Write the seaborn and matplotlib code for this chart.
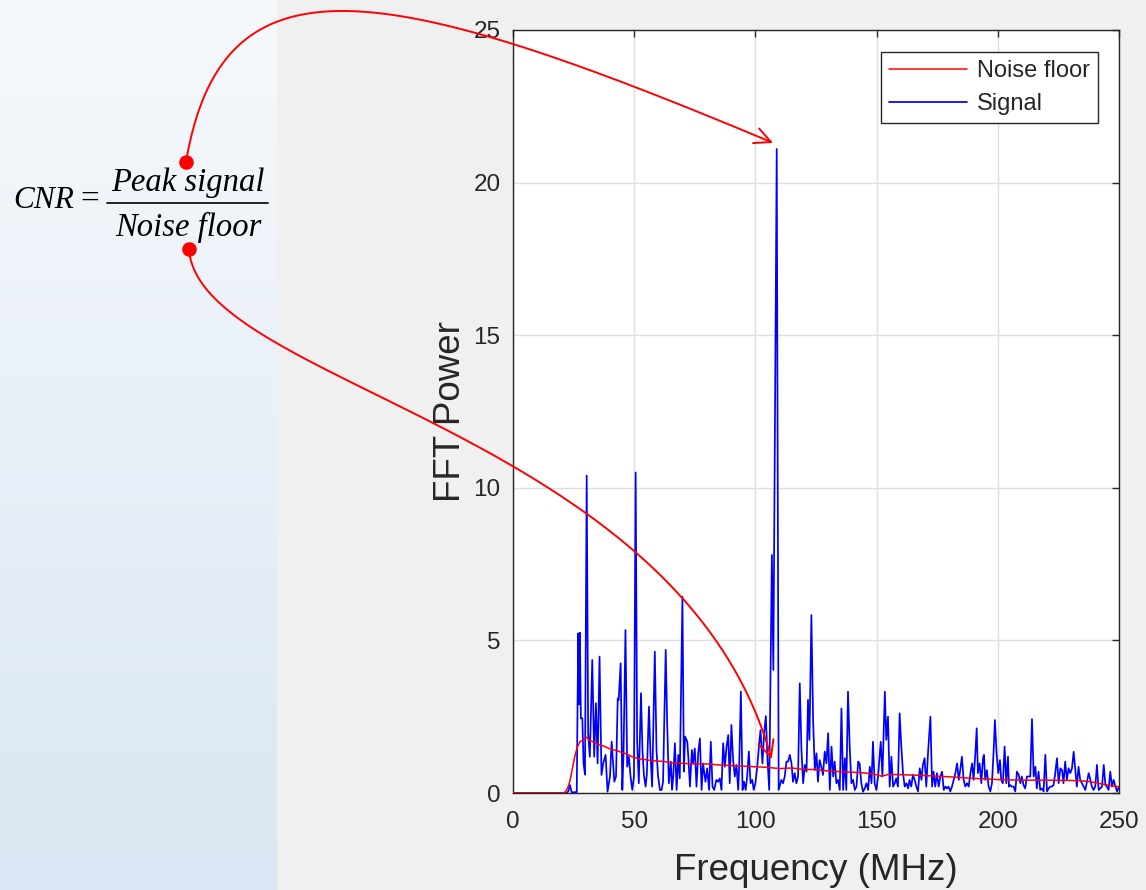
import numpy as np
import pandas as pd
import matplotlib
matplotlib.use("Agg")
import matplotlib.pyplot as plt
from matplotlib.colors import LinearSegmentedColormap
import seaborn as sns

# ---------------- data ----------------
sig_freq = [0, 22.0, 22.8, 23.5, 24.2, 26.3, 26.9, 27.3, 27.6, 28.0, 28.6, 29.1, 29.7, 30.4, 31.0,
            31.7, 32.7, 33.5, 34.2, 34.9, 35.7, 36.5, 37.2, 38.2, 39.0, 40.0, 40.7, 41.8, 42.5, 43.2,
            43.6, 44.4, 45.1, 45.6, 46.4, 47.1, 47.8, 48.5, 49.2, 49.9, 50.6, 51.2, 51.9, 52.8, 53.4,
            54.0, 54.7, 55.2, 56.1, 56.7, 57.4, 58.5, 59.2, 59.8, 60.6, 61.3, 61.9, 63.0, 63.6, 64.3,
            65.1, 65.6, 66.1, 66.8, 67.5, 68.2, 68.8, 69.9, 70.5, 71.0, 71.9, 72.4, 73.0, 73.8, 74.3,
            75.0, 75.7, 76.4, 77.1, 77.8, 78.4, 79.4, 80.1, 80.9, 81.6, 82.3, 83.0, 83.9, 84.6, 85.3,
            86.0, 86.7, 87.4, 88.1, 88.8, 89.4, 90.1, 90.8, 91.5, 92.2, 92.9, 93.3, 94.0, 94.7, 95.3,
            96.0, 96.6, 97.3, 98.0, 98.7, 99.3, 100.0, 100.7, 101.5, 102.1, 102.9, 103.6, 104.3, 105.0,
            105.7, 106.8, 107.4, 108.8, 109.6, 110.7, 111.4, 112.1, 112.8, 113.5, 114.2, 114.9, 115.5,
            116.2, 116.9, 117.6, 118.3, 119.0, 119.7, 120.4, 121.1, 121.7, 122.3, 123.1, 123.8, 124.5,
            125.2, 125.8, 126.5, 127.2, 127.9, 128.6, 129.3, 130.0, 130.7, 131.4, 132.1, 132.7, 133.4,
            134.1, 134.8, 135.5, 136.2, 136.9, 137.5, 138.2, 138.9, 139.6, 140.3, 141.0, 141.7, 142.4,
            143.0, 143.7, 144.4, 145.1, 145.8, 146.5, 147.2, 147.9, 148.5, 149.2, 149.9, 150.6, 151.7,
            152.4, 153.4, 154.0, 154.7, 155.4, 156.1, 156.8, 157.5, 158.1, 158.8, 159.5, 160.2, 160.9,
            161.6, 162.3, 163.0, 163.6, 164.3, 165.0, 165.7, 166.4, 167.1, 167.8, 168.5, 169.1, 169.8,
            170.5, 171.2, 172.2, 172.9, 173.5, 174.2, 174.9, 175.6, 176.3, 177.0, 177.7, 178.4, 179.0,
            179.7, 180.4, 181.1, 181.8, 182.5, 183.2, 183.9, 184.5, 185.2, 185.9, 186.6, 187.3, 188.0,
            188.7, 189.4, 190.0, 190.7, 191.3, 191.8, 192.5, 193.2, 193.9, 194.3, 194.8, 195.5, 196.2,
            196.9, 197.6, 198.3, 198.8, 199.5, 200.2, 200.9, 201.4, 202.1, 202.8, 203.5, 204.2, 204.6,
            205.1, 205.8, 206.5, 207.2, 207.9, 208.6, 209.3, 209.9, 210.6, 211.3, 212.0, 212.7, 213.4,
            214.1, 214.8, 215.5, 216.1, 216.8, 217.5, 218.2, 218.9, 219.6, 220.3, 221.0, 221.6, 222.3,
            223.0, 223.7, 224.4, 225.1, 225.8, 226.5, 227.1, 227.8, 228.5, 229.2, 229.9, 230.6, 231.3,
            232.0, 232.6, 233.3, 234.0, 234.7, 235.4, 236.1, 236.8, 237.5, 238.2, 238.8, 239.5, 240.2,
            240.9, 241.6, 242.3, 243.0, 243.7, 244.4, 245.0, 245.7, 246.4, 247.1, 247.8, 248.5, 249.2,
            250.0]
sig_power = [0, 0, 0.05, 0.26, 0.02, 0.03, 5.23, 2.9, 5.25, 2.45, 2.45, 0.97, 0.6, 10.4, 1.96,
             1.19, 4.36, 1.19, 2.94, 0.97, 4.47, 0.59, 0.97, 1.25, 0.04, 0.54, 1.68, 0.37, 0.54, 3.1,
             3.05, 4.25, 0.1, 1.3, 5.34, 0.86, 1.19, 0.54, 0.1, 0.54, 10.5, 1.74, 0.32, 3.27, 1.41,
             0.59, 0.21, 0.59, 2.83, 1.3, 0.21, 4.63, 1.41, 0.59, 0.1, 0.1, 0.37, 4.69, 2.28, 0.32,
             1.03, 0.1, 0.54, 1.63, 0.1, 1.25, 0.48, 6.43, 0.7, 1.85, 1.68, 1.08, 0.21, 1.41, 0.97,
             1.46, 0.21, 1.3, 1.79, 0.1, 0.97, 0.37, 0.81, 0.1, 1.68, 0.21, 0.1, 0.43, 0.37, 0.48,
             0.1, 1.63, 0.86, 1.52, 1.9, 0.32, 2.23, 1.08, 0.54, 0.92, 0.1, 0.86, 3.32, 0.1, 0.37,
             0.1, 0.54, 1.36, 0.32, 0.43, 0.1, 0.32, 0.81, 1.57, 2.06, 0.97, 1.96, 2.52, 1.08,
             0.1, 7.8, 4.03, 21.1, 0.1, 0.43, 0.32, 0.54, 1.03, 1.03, 1.25, 0.97, 0.37,
             0.65, 0.32, 0.54, 3.59, 1.41, 0.32, 0.92, 0.7, 3.05, 1.74, 5.83, 2.39, 0.75,
             1.3, 0.37, 1.08, 0.86, 0.59, 1.36, 0.97, 1.96, 0.1, 1.52, 0.54, 1.03, 0.32,
             0.43, 0.1, 2.77, 0.1, 1.14, 0.1, 3.32, 1.52, 0.32, 0.43, 0.1, 0.21, 1.03,
             0.97, 0.32, 0.04, 0.15, 0.32, 0.1, 0.86, 0.32, 1.68, 0.32, 0.1, 0.54, 1.68,
             0.54, 3.32, 1.74, 2.5, 0.21, 1.19, 0.21, 0.32, 0.48, 0.21, 2.61, 1.52, 0.65,
             0.21, 0.32, 0.15, 0.43, 0.21, 0.6, 0.43, 0.21, 0.05, 0.81, 0.43, 0.92, 1.14,
             0.21, 1.3, 2.5, 0.21, 0.7, 0.21, 0.65, 0.21, 0.54, 0.7, 0.1, 0.21, 0.15,
             0.21, 0.05, 0.21, 0.43, 0.65, 0.97, 0.43, 0.75, 1.19, 0.43, 0.21, 0.32, 0.21,
             0.65, 0.97, 0.43, 1.25, 2.12, 0.65, 0.97, 0.32, 1.14, 1.25, 0.43, 0.75, 0.21,
             0.05, 0.32, 1.41, 2.39, 1.3, 0.65, 1.08, 0.43, 0.32, 1.52, 0.32, 1.19, 0.21,
             0.26, 0.21, 0.21, 0.05, 0.7, 0.6, 0.32, 0.54, 0.26, 0.15, 0.54, 0.54, 0.54,
             2.42, 0.54, 0.86, 0.15, 0.7, 0.1, 0.15, 0.05, 1.25, 0.05, 0.15, 0.21, 0.21,
             0.26, 0.65, 1.14, 0.32, 0.81, 0.75, 0.32, 1.03, 0.43, 0.81, 0.65, 0.81, 1.35,
             0.75, 0.21, 0.86, 0.43, 0.32, 0.21, 0.1, 0.37, 0.65, 0.43, 0.21, 0.1, 0.21,
             0.92, 0.1, 0.15, 0.21, 0.92, 0.26, 0.21, 0.1, 0.7, 0.21, 0.43, 0.21, 0.05,
             0.21]

nf_freq = [0, 20, 21.4, 22.5, 23.5, 24.5, 25.5, 26.5, 27.6, 29, 30.4, 31.5, 33, 35, 37, 39, 41, 43,
           45, 47, 49, 52, 55.7, 59, 62.6, 66, 70, 75, 80, 85, 90, 95, 100, 105, 110, 115, 120, 125,
           130, 135, 140, 145, 150, 152, 155, 160, 170, 180, 190, 200, 210, 220, 230, 235, 238, 241,
           244, 247, 250]
nf_power = [0, 0, 0.02, 0.15, 0.4, 0.8, 1.2, 1.5, 1.68, 1.75, 1.83, 1.72, 1.68, 1.6, 1.55, 1.48, 1.42,
            1.39, 1.32, 1.28, 1.19, 1.12, 1.08, 1.05, 1.03, 0.98, 0.97, 0.95, 0.95, 0.92, 0.9, 0.88,
            0.86, 0.84, 0.8, 0.82, 0.77, 0.77, 0.72, 0.7, 0.68, 0.66, 0.6, 0.55, 0.61, 0.6, 0.57, 0.53,
            0.48, 0.44, 0.42, 0.42, 0.41, 0.40, 0.37, 0.33, 0.28, 0.24, 0.2]

series_names = ["Noise floor", "Signal"]
x_ticks = [0, 50, 100, 150, 200, 250]
y_ticks = [0, 5, 10, 15, 20, 25]
x_label = "Frequency (MHz)"
y_label = "FFT Power"
formula_num = "Peak signal"
formula_den = "Noise floor"
formula_lhs = "CNR"

# ---------------- figure ----------------
sns.set_theme(style="white")
plt.rcParams['font.family'] = ['Liberation Sans', 'DejaVu Sans']

W, H = 1146, 890
fig = plt.figure(figsize=(W / 100, H / 100), dpi=100, facecolor='#f0f0f0')

# left gradient panel
bg = fig.add_axes([0, 0, 277 / W, 1], zorder=-5)
cmap = LinearSegmentedColormap.from_list('bgp', ['#f6f9fc', '#dae6f3'])
bg.imshow(np.linspace(0, 1, 256)[:, None], aspect='auto', cmap=cmap,
          extent=[0, 1, 0, 1], origin='upper')
bg.axis('off')

ax = fig.add_axes([513 / W, 1 - 793 / H, 606 / W, 763 / H])
ax.set_facecolor('white')

df_nf = pd.DataFrame({'freq': nf_freq, 'power': nf_power})
df_sig = pd.DataFrame({'freq': sig_freq, 'power': sig_power})
sns.lineplot(data=df_nf, x='freq', y='power', ax=ax, color='#ff0000', lw=1.1,
             estimator=None, label=series_names[0], zorder=3)
sns.lineplot(data=df_sig, x='freq', y='power', ax=ax, color='#0000ff', lw=1.25,
             estimator=None, label=series_names[1], zorder=2)

ax.set_xlim(0, 250)
ax.set_ylim(0, 25)
ax.set_xticks(x_ticks)
ax.set_yticks(y_ticks)
ax.grid(True, color='#e0e0e0', lw=1.0)
ax.set_axisbelow(True)
for s in ax.spines.values():
    s.set_color('#262626')
    s.set_linewidth(1.0)
    s.set_visible(True)
ax.tick_params(direction='in', length=5, width=1.0, top=True, right=True,
               labelsize=17.5, colors='#262626', pad=9)
ax.tick_params(axis='x', pad=13)
ax.set_xlabel(x_label, fontsize=26.5, color='#262626')
ax.set_ylabel(y_label, fontsize=26.5, color='#262626')
ax.xaxis.set_label_coords(0.5, -0.078)
ax.yaxis.set_label_coords(-0.075, 0.5)

leg = ax.legend(loc='upper right', bbox_to_anchor=(0.965, 0.971), borderaxespad=0,
                fontsize=17, frameon=True, fancybox=False, handlelength=3.3,
                handletextpad=0.4, labelspacing=0.45, borderpad=0.35)
leg.get_frame().set_edgecolor('#262626')
leg.get_frame().set_linewidth(1.0)
leg.get_frame().set_facecolor('white')
leg.get_frame().set_alpha(1)

# ---------------- annotation overlay (pixel coordinates) ----------------
ov = fig.add_axes([0, 0, 1, 1], zorder=10)
ov.set_xlim(0, W)
ov.set_ylim(H, 0)
ov.patch.set_alpha(0)
ov.axis('off')


def bezier(p0, p1, p2, p3, n=200):
    t = np.linspace(0, 1, n)[:, None]
    p0, p1, p2, p3 = map(np.asarray, (p0, p1, p2, p3))
    return ((1 - t) ** 3) * p0 + 3 * ((1 - t) ** 2) * t * p1 + 3 * (1 - t) * t ** 2 * p2 + t ** 3 * p3


def arrow(p0, p1, p2, p3, arm=18, ang=26):
    pts = bezier(p0, p1, p2, p3)
    ov.plot(pts[:, 0], pts[:, 1], color='#ff0000', lw=1.4, solid_capstyle='round')
    d = np.asarray(p3) - pts[-8]
    d = d / np.hypot(*d)
    for a in (ang, -ang):
        r = np.deg2rad(a)
        rot = np.array([[np.cos(r), -np.sin(r)], [np.sin(r), np.cos(r)]])
        v = rot @ (-d) * arm
        ov.plot([p3[0], p3[0] + v[0]], [p3[1], p3[1] + v[1]], color='#ff0000', lw=1.4,
                solid_capstyle='round')


arrow((186, 162), (222, -50), (380, -22), (771, 142))
arrow((189, 249), (198, 385), (680, 430), (771, 757))
ov.scatter([186, 189], [162, 249], s=110, color='#ff0000', zorder=12, linewidths=0)

serif = ['Liberation Serif', 'DejaVu Serif']
ov.text(13, 200, formula_lhs, family=serif, style='italic', fontsize=22.5, ha='left', va='center',
        color='black')
ov.text(90, 199, "=", family=serif, fontsize=24, ha='center', va='center', color='black')
ov.plot([107, 268], [203, 203], color='black', lw=1.2)
ov.text(188, 183, formula_num, family=serif, style='italic', fontsize=23.5, ha='center',
        va='center', color='black')
ov.text(188, 227, formula_den, family=serif, style='italic', fontsize=23.5, ha='center',
        va='center', color='black')

fig.savefig('out.png', dpi=100, facecolor=fig.get_facecolor())
